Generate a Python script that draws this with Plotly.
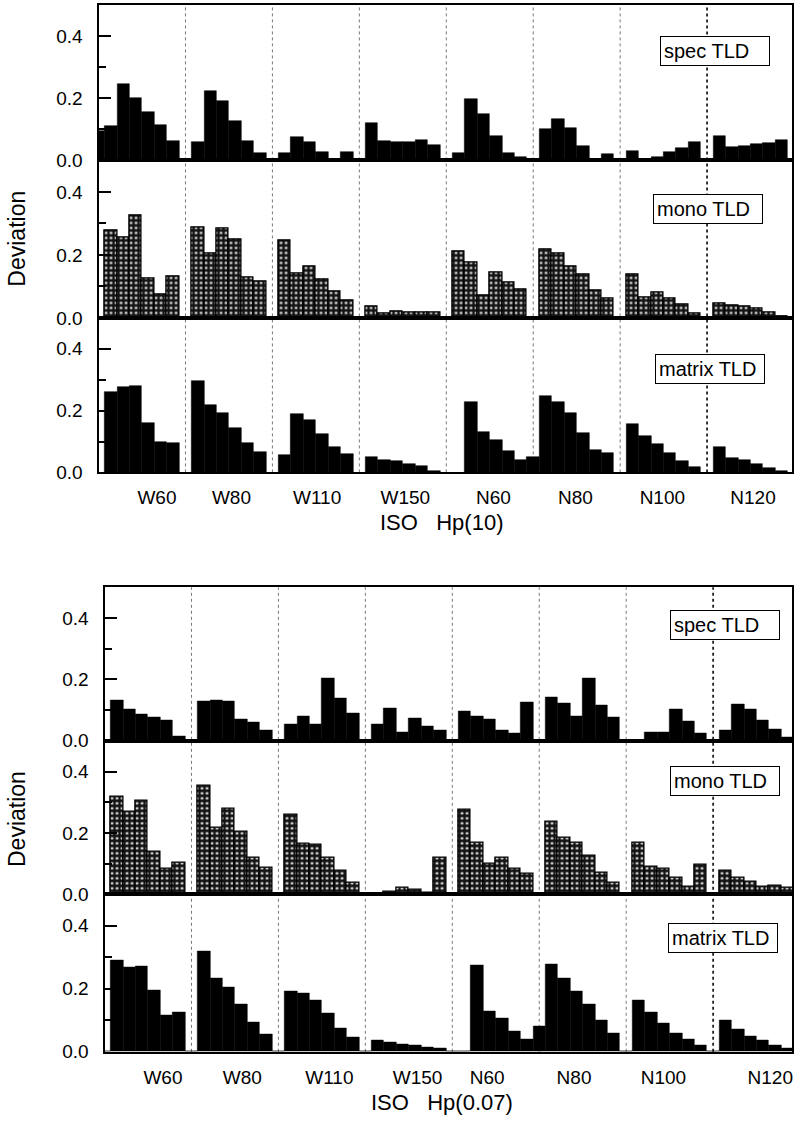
import plotly.graph_objects as go

# Beam qualities; each group holds 7 angle slots (slot 0 sits on the group boundary)
GROUPS = ["W60", "W80", "W110", "W150", "N60", "N80", "N100", "N120"]

# ---- ISO Hp(10) ----
HP10_SPEC = {
    "W60":  [0.095, 0.111, 0.247, 0.201, 0.156, 0.114, 0.063],
    "W80":  [0, 0.061, 0.225, 0.190, 0.127, 0.063, 0.023],
    "W110": [0, 0.024, 0.074, 0.058, 0.026, 0.002, 0.026],
    "W150": [0, 0.119, 0.063, 0.061, 0.061, 0.067, 0.051],
    "N60":  [0, 0.025, 0.198, 0.150, 0.079, 0.025, 0.010],
    "N80":  [0, 0.100, 0.134, 0.103, 0.048, 0.004, 0.020],
    "N100": [0, 0.031, 0.004, 0.010, 0.026, 0.041, 0.058],
    "N120": [0, 0.078, 0.044, 0.046, 0.053, 0.057, 0.066],
}
HP10_MONO = {
    "W60":  [0, 0.278, 0.257, 0.325, 0.126, 0.076, 0.131],
    "W80":  [0, 0.288, 0.206, 0.285, 0.248, 0.130, 0.116],
    "W110": [0, 0.245, 0.140, 0.165, 0.121, 0.083, 0.055],
    "W150": [0, 0.035, 0.013, 0.020, 0.017, 0.018, 0.018],
    "N60":  [0, 0.212, 0.177, 0.072, 0.143, 0.113, 0.090],
    "N80":  [0, 0.219, 0.205, 0.164, 0.139, 0.086, 0.063],
    "N100": [0, 0.138, 0.064, 0.082, 0.061, 0.044, 0.014],
    "N120": [0, 0.047, 0.040, 0.035, 0.029, 0.017, 0.006],
}
HP10_MATRIX = {
    "W60":  [0, 0.261, 0.277, 0.280, 0.160, 0.099, 0.094],
    "W80":  [0, 0.296, 0.220, 0.194, 0.144, 0.094, 0.066],
    "W110": [0, 0.056, 0.189, 0.170, 0.126, 0.083, 0.059],
    "W150": [0, 0.050, 0.039, 0.037, 0.029, 0.020, 0.005],
    "N60":  [0, 0, 0.229, 0.130, 0.106, 0.069, 0.039],
    "N80":  [0.050, 0.248, 0.229, 0.191, 0.128, 0.074, 0.064],
    "N100": [0, 0.156, 0.117, 0.093, 0.064, 0.037, 0.019],
    "N120": [0, 0.082, 0.048, 0.040, 0.029, 0.016, 0.005],
}

# ---- ISO Hp(0.07) ----
HP007_SPEC = {
    "W60":  [0, 0.133, 0.103, 0.087, 0.078, 0.066, 0.014],
    "W80":  [0, 0.128, 0.131, 0.130, 0.069, 0.061, 0.035],
    "W110": [0, 0.055, 0.080, 0.055, 0.204, 0.138, 0.088],
    "W150": [0, 0.055, 0.106, 0.027, 0.074, 0.046, 0.034],
    "N60":  [0, 0.096, 0.080, 0.069, 0.035, 0.023, 0.124],
    "N80":  [0, 0.141, 0.122, 0.080, 0.205, 0.117, 0.078],
    "N100": [0, 0, 0.027, 0.027, 0.104, 0.064, 0.023],
    "N120": [0, 0.034, 0.119, 0.103, 0.067, 0.037, 0.013],
}
HP007_MONO = {
    "W60":  [0, 0.318, 0.269, 0.305, 0.140, 0.082, 0.102],
    "W80":  [0, 0.353, 0.218, 0.277, 0.205, 0.118, 0.085],
    "W110": [0, 0.259, 0.163, 0.161, 0.120, 0.075, 0.037],
    "W150": [0, 0.003, 0.008, 0.020, 0.014, 0.004, 0.118],
    "N60":  [0, 0.275, 0.169, 0.098, 0.118, 0.082, 0.066],
    "N80":  [0, 0.235, 0.183, 0.167, 0.126, 0.069, 0.037],
    "N100": [0, 0.169, 0.088, 0.083, 0.053, 0.026, 0.096],
    "N120": [0, 0.077, 0.053, 0.042, 0.023, 0.029, 0.020],
}
HP007_MATRIX = {
    "W60":  [0, 0.292, 0.267, 0.271, 0.195, 0.115, 0.124],
    "W80":  [0, 0.320, 0.233, 0.205, 0.150, 0.095, 0.055],
    "W110": [0, 0.193, 0.187, 0.164, 0.121, 0.075, 0.045],
    "W150": [0, 0.038, 0.030, 0.025, 0.020, 0.015, 0.010],
    "N60":  [0, 0, 0.275, 0.130, 0.105, 0.065, 0.040],
    "N80":  [0.080, 0.278, 0.232, 0.193, 0.150, 0.100, 0.060],
    "N100": [0, 0.164, 0.125, 0.090, 0.060, 0.040, 0.020],
    "N120": [0, 0.100, 0.070, 0.050, 0.035, 0.020, 0.010],
}

Y_TICKS = [0.0, 0.2, 0.4]
Y_TICK_TEXT = ["0.0", "0.2", "0.4"]
UPPER_LABEL_POS = [4.7, 10.7, 17.6, 24.7, 31.8, 38.4, 45.4, 52.7]
LOWER_LABEL_POS = [4.7, 11.1, 18.1, 25.2, 30.8, 37.8, 45.0, 53.6]

W, H = 794, 1145
FONT = "Liberation Sans, Arial, sans-serif"
SLOT = 7


def px_x(p):
    return p / W


def px_y(p):
    return 1 - p / H


def flatten(series):
    vals = []
    for g in GROUPS:
        vals.extend(series[g])
    return vals


# panel: data, pixel top/bottom, pixel left edge, x-range end, label, box spot
panels = [
    dict(data=HP10_SPEC, top=5, bot=162, left=98.8, xend=55.84, kind="solid",
         label="spec TLD", bx=662, by=51),
    dict(data=HP10_MONO, top=162, bot=321, left=98.8, xend=55.84, kind="mono",
         label="mono TLD", bx=655, by=211),
    dict(data=HP10_MATRIX, top=321, bot=477, left=98.8, xend=55.84, kind="solid",
         label="matrix TLD", bx=657, by=373),
    dict(data=HP007_SPEC, top=593, bot=748, left=104.8, xend=55.35, kind="solid",
         label="spec TLD", bx=672, by=631),
    dict(data=HP007_MONO, top=748, bot=903, left=104.8, xend=55.35, kind="mono",
         label="mono TLD", bx=672, by=789),
    dict(data=HP007_MATRIX, top=903, bot=1062, left=104.8, xend=55.35, kind="solid",
         label="matrix TLD", bx=670, by=947),
]

fig = go.Figure()
layout = dict(
    width=W, height=H,
    margin=dict(l=0, r=0, t=0, b=0),
    paper_bgcolor="white", plot_bgcolor="white",
    showlegend=False, bargap=0,
    font=dict(family=FONT, color="black", size=19),
    annotations=[], shapes=[],
)

for i, p in enumerate(panels, start=1):
    vals = flatten(p["data"])
    xs = list(range(len(vals)))
    if p["kind"] == "solid":
        marker = dict(color="black", line=dict(color="black", width=0.5))
    else:
        marker = dict(
            color="#141414",
            line=dict(color="black", width=1.3),
            pattern=dict(shape=".", fgcolor="#f2f2f2", bgcolor="#141414",
                         size=5, solidity=0.2, fillmode="replace"),
        )
    fig.add_trace(go.Bar(x=xs, y=vals, width=1.0, marker=marker,
                         xaxis=f"x{i}", yaxis=f"y{i}", hoverinfo="skip"))

    bottom_panel = i in (3, 6)
    label_pos = UPPER_LABEL_POS if i <= 3 else LOWER_LABEL_POS
    layout[f"xaxis{i}"] = dict(
        domain=[px_x(p["left"]), 1.0], range=[0, p["xend"]],
        anchor=f"y{i}", showgrid=False, zeroline=False,
        showline=True, linecolor="black", linewidth=2.2, mirror=True,
        ticks="", tickmode="array",
        tickvals=label_pos if bottom_panel else [],
        ticktext=GROUPS if bottom_panel else [],
        tickfont=dict(size=19, family=FONT),
        ticklabelstandoff=7,
    )
    layout[f"yaxis{i}"] = dict(
        domain=[px_y(p["bot"]), px_y(p["top"])], range=[0, 0.5],
        anchor=f"x{i}", showgrid=False, zeroline=False,
        showline=True, linecolor="black", linewidth=2.2, mirror=True,
        tickmode="array", tickvals=Y_TICKS, ticktext=Y_TICK_TEXT,
        ticks="inside", ticklen=12, tickwidth=2, tickcolor="black",
        minor=dict(ticks="inside", ticklen=7, tickwidth=2, tickcolor="black",
                   tickvals=[0.1, 0.3]),
        tickfont=dict(size=19, family=FONT),
        ticklabelstandoff=10,
    )
    layout["annotations"].append(dict(
        text=p["label"], xref="paper", yref="paper",
        x=px_x(p["bx"]), y=px_y(p["by"]), xanchor="left", yanchor="middle",
        showarrow=False, font=dict(size=20, family=FONT, color="black"),
        bgcolor="white", bordercolor="black", borderwidth=1, borderpad=3,
        width=102, align="left",
    ))

# Dotted boundaries between beam-quality groups, spanning each stack of panels
for xref, top, bot in (("x3", 5, 477), ("x6", 593, 1062)):
    for g in range(1, len(GROUPS)):
        heavy = GROUPS[g] == "N120"
        layout["shapes"].append(dict(
            type="line", xref=xref, yref="paper",
            x0=g * SLOT, x1=g * SLOT, y0=px_y(bot), y1=px_y(top),
            line=dict(color="#222222" if heavy else "#777777",
                      width=1.8 if heavy else 1, dash="dot"),
            layer="below",
        ))

# Axis titles
for ycen in (241, 827):
    layout["annotations"].append(dict(
        text="Deviation", xref="paper", yref="paper",
        x=px_x(17), y=px_y(ycen), xanchor="center", yanchor="middle",
        textangle=-90, showarrow=False, font=dict(size=23, family=FONT),
    ))
for text, ycen in (("ISO\u00a0\u00a0\u00a0Hp(10)", 528), ("ISO\u00a0\u00a0\u00a0Hp(0.07)", 1113)):
    layout["annotations"].append(dict(
        text=text, xref="paper", yref="paper",
        x=px_x(443), y=px_y(ycen), xanchor="center", yanchor="middle",
        showarrow=False, font=dict(size=22, family=FONT),
    ))

fig.update_layout(**layout)
fig.write_html("out.html")
